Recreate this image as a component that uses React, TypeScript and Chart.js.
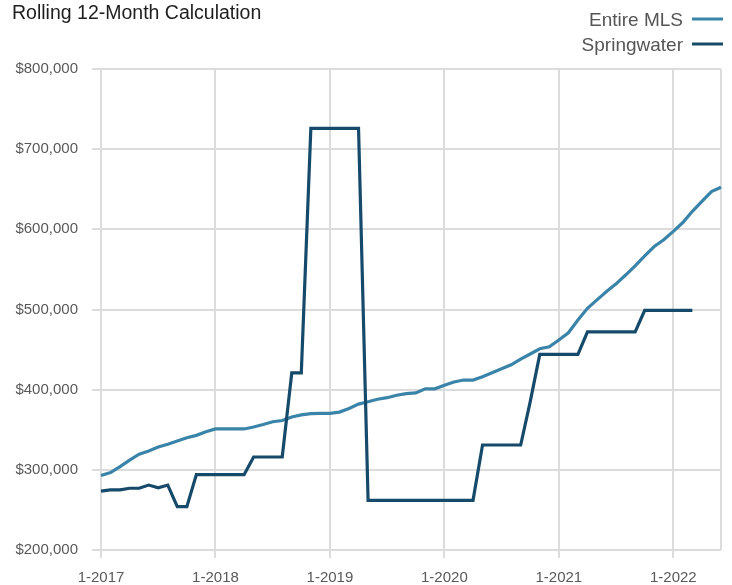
import React, { useEffect, useRef } from 'react';
import { Chart, registerables } from 'chart.js';

Chart.register(...registerables);

const FONT = '"Liberation Sans", Arial, Helvetica, sans-serif';

const titleText = 'Rolling 12-Month Calculation';
const seriesNames = ['Entire MLS', 'Springwater'];
const seriesColors = ['#3b84a9', '#164a6b'];

const years = [2017, 2018, 2019, 2020, 2021, 2022];
const lastMonth2022 = 6;
const monthLabels: string[] = [];
for (const y of years) {
  for (let m = 1; m <= 12; m++) {
    if (y === 2022 && m > lastMonth2022) break;
    monthLabels.push(`${m}-${y}`);
  }
}

const entireMLS = [
  293000, 296500, 304000, 312000, 319500, 323500, 328500, 332000, 336000, 340000,
  343000, 347500, 351000, 351000, 351000, 351000, 353500, 356500, 360000, 361500,
  366000, 368500, 370000, 370500, 370500, 372000, 376500, 382000, 385000, 388000,
  390000, 393000, 395000, 396000, 401000, 401000, 405500, 409500, 412000, 412000,
  416000, 421000, 426000, 431000, 438000, 444500, 451000, 453500, 462000, 471000,
  487000, 501500, 512000, 522500, 532000, 543000, 554500, 567000, 578500, 587000,
  597500, 608500, 622500, 635000, 647000, 652500,
];

const springwater = [
  273500, 275000, 275000, 277000, 277000, 281000, 277500, 281000, 254000, 254000,
  294000, 294000, 294000, 294000, 294000, 294000, 316000, 316000, 316000, 316000,
  421000, 421000, 726000, 726000, 726000, 726000, 726000, 726000, 262000, 262000,
  262000, 262000, 262000, 262000, 262000, 262000, 262000, 262000, 262000, 262000,
  331000, 331000, 331000, 331000, 331000, 385000, 444000, 444000, 444000, 444000,
  444000, 472000, 472000, 472000, 472000, 472000, 472000, 499000, 499000, 499000,
  499000, 499000, 499000, null, null, null,
];

const yMin = 200000;
const yMax = 800000;
const yStep = 100000;

const headerPlugin = {
  id: 'headerPlugin',
  afterDraw(chart: any) {
    const ctx = chart.ctx;
    ctx.save();
    ctx.textBaseline = 'alphabetic';
    ctx.textAlign = 'left';
    ctx.fillStyle = '#1e1e1e';
    ctx.font = `19.5px ${FONT}`;
    ctx.fillText(titleText, 12, 19);

    ctx.font = `19px ${FONT}`;
    ctx.textAlign = 'right';
    const baselines = [26, 51];
    const lineYs = [19, 44];
    seriesNames.forEach((name, i) => {
      ctx.fillStyle = '#555555';
      ctx.fillText(name, 683, baselines[i]);
      ctx.strokeStyle = seriesColors[i];
      ctx.lineWidth = 3;
      ctx.beginPath();
      ctx.moveTo(692, lineYs[i]);
      ctx.lineTo(723, lineYs[i]);
      ctx.stroke();
    });
    ctx.restore();
  },
};

export default function App() {
  const ref = useRef<HTMLCanvasElement | null>(null);

  useEffect(() => {
    if (!ref.current) return;
    const chart = new Chart(ref.current, {
      type: 'line',
      data: {
        labels: monthLabels,
        datasets: [
          {
            label: seriesNames[1],
            data: springwater,
            borderColor: seriesColors[1],
            backgroundColor: seriesColors[1],
            borderWidth: 3.2,
            pointRadius: 0,
            tension: 0,
            spanGaps: false,
          },
          {
            label: seriesNames[0],
            data: entireMLS,
            borderColor: seriesColors[0],
            backgroundColor: seriesColors[0],
            borderWidth: 3.2,
            pointRadius: 0,
            tension: 0,
          },
        ],
      },
      options: {
        responsive: false,
        animation: false,
        layout: { padding: { left: 0, right: 10, top: 69, bottom: 0 } },
        plugins: {
          legend: { display: false },
          title: { display: false },
          tooltip: { enabled: false },
        },
        scales: {
          x: {
            type: 'category',
            offset: false,
            border: { display: false },
            grid: {
              lineWidth: 2,
              tickLength: 8,
              color: (c: any) =>
                c.index % 12 === 0 || c.index === monthLabels.length - 1 ? '#dcdcdc' : 'rgba(0,0,0,0)',
              tickColor: (c: any) => (c.index % 12 === 0 ? '#dcdcdc' : 'rgba(0,0,0,0)'),
            },
            ticks: {
              autoSkip: false,
              maxRotation: 0,
              minRotation: 0,
              padding: 11,
              color: '#595959',
              font: { family: FONT, size: 15 },
              callback: (_v: any, i: number) => (i % 12 === 0 ? monthLabels[i] : ''),
            },
            afterFit: (s: any) => {
              s.height = 35;
            },
          },
          y: {
            min: yMin,
            max: yMax,
            border: { display: false },
            grid: { color: '#dcdcdc', lineWidth: 2, tickLength: 9 },
            ticks: {
              stepSize: yStep,
              padding: 14,
              color: '#595959',
              font: { family: FONT, size: 15 },
              callback: (v: any) => '$' + Number(v).toLocaleString('en-US'),
            },
            afterFit: (s: any) => {
              s.width = 101;
            },
          },
        },
      },
      plugins: [headerPlugin],
    });
    return () => chart.destroy();
  }, []);

  return (
    <div style={{ position: 'absolute', left: 0, top: 0, width: 732, height: 585, background: '#fff' }}>
      <canvas ref={ref} width={732} height={585} style={{ display: 'block' }} />
    </div>
  );
}
